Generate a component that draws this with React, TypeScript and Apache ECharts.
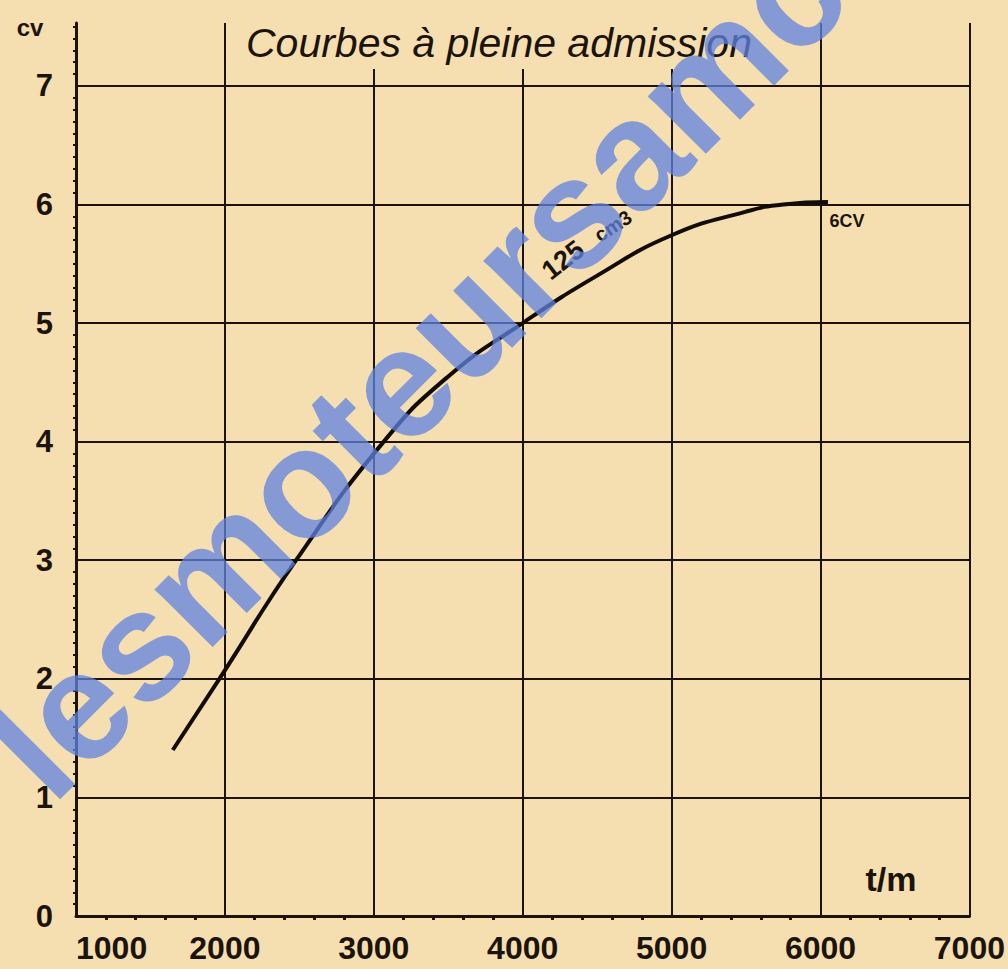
import React, { useEffect, useRef } from "react";
import * as echarts from "echarts";

// engine speed (t/m) and power (CV)
const rpm = [1650, 1963, 2478, 3067, 3500, 4000, 4500, 5000, 5500, 5750, 6050];
const power = [1.4, 2.0, 3.0, 4.0, 4.55, 5.0, 5.4, 5.74, 5.94, 6.0, 6.02];

const xMin = 1000;
const xMax = 7000;
const xStep = 1000;
const yMin = 0;
const yTop = 7.53;
const yStep = 1;

const titleText = "Courbes à pleine admission";
const yName = "cv";
const xName = "t/m";
const curveLabel = "125";
const curveSup = "cm3";
const peakLabel = "6CV";
const watermark = "lesmoteursamc.";

const PAPER = "#f5dfb1";
const INK = "#1c140b";
const FONT = "'Liberation Sans', Arial, sans-serif";

export default function App() {
  const ref = useRef<HTMLDivElement>(null);

  useEffect(() => {
    if (!ref.current) return;
    const chart = echarts.init(ref.current, undefined, { renderer: "svg" });
    const wmAngle = (45 * Math.PI) / 180;
    chart.setOption({
      animation: false,
      backgroundColor: PAPER,
      title: {
        text: titleText,
        left: 240,
        top: 20,
        backgroundColor: PAPER,
        padding: [2, 6, 6, 6],
        textStyle: {
          fontFamily: FONT,
          fontStyle: "italic",
          fontWeight: "normal",
          fontSize: 41,
          color: INK,
        },
      },
      grid: { left: 76, right: 35, top: 23, bottom: 53 },
      xAxis: {
        type: "value",
        min: xMin,
        max: xMax,
        interval: xStep,
        axisLine: { show: true, onZero: false, lineStyle: { color: INK, width: 3 } },
        axisTick: { show: false },
        minorTick: { show: true, splitNumber: 5, length: 4, lineStyle: { color: INK, width: 3 } },
        splitLine: { show: true, showMinLine: false, lineStyle: { color: INK, width: 2 } },
        axisLabel: {
          margin: 16,
          alignMinLabel: "left",
          fontFamily: FONT,
          fontWeight: "bold",
          fontSize: 32,
          color: INK,
          formatter: (v: number) => String(v),
        },
      },
      yAxis: {
        type: "value",
        min: yMin,
        max: yTop,
        interval: yStep,
        axisLine: { show: true, onZero: false, lineStyle: { color: INK, width: 3 } },
        axisTick: { show: false },
        minorTick: { show: true, splitNumber: 10, length: 3, lineStyle: { color: INK, width: 2 } },
        splitLine: { show: true, showMinLine: false, showMaxLine: false, lineStyle: { color: INK, width: 2 } },
        axisLabel: {
          showMaxLabel: false,
          margin: 23,
          padding: [0, 0, 16, 0],
          fontFamily: FONT,
          fontWeight: "bold",
          fontSize: 31,
          color: INK,
          formatter: (v: number) => (Number.isInteger(v) ? String(v) : ""),
        },
      },
      series: [
        {
          type: "line",
          data: rpm.map((x, i) => [x, power[i]]),
          smooth: 0.5,
          symbol: "none",
          lineStyle: { color: "#120c06", width: 4 },
          z: 5,
        },
      ],
      graphic: [
        {
          type: "text",
          x: 30,
          y: 27,
          style: { text: yName, fill: INK, fontFamily: FONT, fontWeight: "bold", fontSize: 24, align: "center", verticalAlign: "middle" },
        },
        {
          type: "text",
          x: 891,
          y: 879,
          style: { text: xName, fill: INK, fontFamily: FONT, fontWeight: "bold", fontSize: 34, align: "center", verticalAlign: "middle" },
        },
        {
          type: "text",
          x: 847,
          y: 221,
          style: { text: peakLabel, fill: INK, fontFamily: FONT, fontWeight: "bold", fontSize: 18, align: "center", verticalAlign: "middle" },
        },
        {
          type: "text",
          x: 563,
          y: 260,
          rotation: 0.66,
          style: { text: curveLabel, fill: INK, fontFamily: FONT, fontWeight: "bold", fontSize: 27, align: "center", verticalAlign: "middle" },
        },
        {
          type: "text",
          x: 613,
          y: 226,
          rotation: 0.58,
          style: { text: curveSup, fill: INK, fontFamily: FONT, fontWeight: "bold", fontSize: 20, align: "center", verticalAlign: "middle" },
        },
        {
          type: "text",
          x: 432,
          y: 352,
          rotation: wmAngle,
          z: 100,
          silent: true,
          style: {
            text: watermark,
            fill: "#5f82e0",
            opacity: 0.75,
            fontFamily: FONT,
            fontWeight: "bold",
            fontSize: 155,
            align: "center",
            verticalAlign: "middle",
          },
        },
      ],
    });
    return () => chart.dispose();
  }, []);

  return (
    <div
      ref={ref}
      style={{ position: "fixed", left: 0, top: 0, width: 1008, height: 969 }}
    />
  );
}
